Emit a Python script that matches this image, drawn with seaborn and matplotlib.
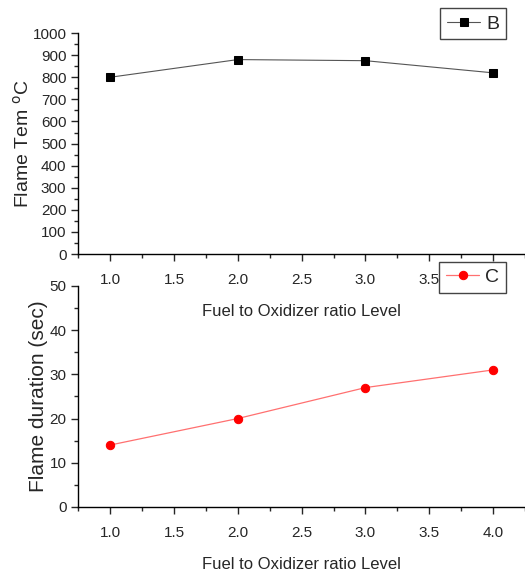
import matplotlib
matplotlib.use("Agg")
from matplotlib import pyplot as plt
from matplotlib.ticker import MultipleLocator
import pandas as pd
import seaborn as sns

# data
levels = [1.0, 2.0, 3.0, 4.0]
flame_temp = [800, 880, 875, 820]
flame_duration = [14, 20, 27, 31]

df = pd.DataFrame({"Level": levels, "B": flame_temp, "C": flame_duration})

sns.set_style("ticks")
plt.rcParams["font.family"] = ["Liberation Sans", "DejaVu Sans"]

fig = plt.figure(figsize=(5.25, 5.8), dpi=100)
ax1 = fig.add_axes([0.149, 0.562, 0.851, 0.381])
ax2 = fig.add_axes([0.149, 0.126, 0.851, 0.381])
# bottom panel sits on top (its legend hides the 4.0 label) but lets the top x label show
ax2.set_zorder(2)
ax2.patch.set_alpha(0)

# top panel: flame temperature
sns.lineplot(data=df, x="Level", y="B", ax=ax1, color="#555555", linewidth=0.8,
             marker="s", markersize=6, markerfacecolor="black",
             markeredgecolor="black", label="B")
ax1.set_ylim(0, 1000)
ax1.yaxis.set_major_locator(MultipleLocator(100))
ax1.yaxis.set_minor_locator(MultipleLocator(50))
ax1.set_ylabel("Flame Tem $^{\\mathrm{o}}$C", fontsize=14, labelpad=0)

# bottom panel: flame duration
sns.lineplot(data=df, x="Level", y="C", ax=ax2, color="#ff7070", linewidth=0.9,
             marker="o", markersize=6, markerfacecolor="red",
             markeredgecolor="red", label="C")
ax2.set_ylim(0, 50)
ax2.yaxis.set_major_locator(MultipleLocator(10))
ax2.yaxis.set_minor_locator(MultipleLocator(5))
ax2.set_ylabel("Flame duration (sec)", fontsize=15, labelpad=1)

for ax in (ax1, ax2):
    ax.set_xlim(0.75, 4.25)
    ax.xaxis.set_minor_locator(MultipleLocator(0.25))
    ax.set_xticks([1.0, 1.5, 2.0, 2.5, 3.0, 3.5, 4.0])
    ax.set_xlabel("Fuel to Oxidizer ratio Level", fontsize=12, labelpad=12)
    ax.tick_params(which="major", length=5, width=1, labelsize=11, direction="out")
    ax.tick_params(axis="x", which="major", pad=9)
    ax.tick_params(which="minor", length=3, width=1, direction="out")
    ax.spines["top"].set_visible(False)
    ax.spines["right"].set_visible(False)
    for s in ("left", "bottom"):
        ax.spines[s].set_color("black")
        ax.spines[s].set_linewidth(1)
    leg = ax.legend(loc="upper right", fontsize=14, handlelength=1.7,
                    handletextpad=0.3, frameon=True, fancybox=False,
                    borderpad=0.35, borderaxespad=0, framealpha=1)
    leg.get_frame().set_edgecolor("#444444")
    leg.get_frame().set_linewidth(1)

ax1.legend_.set_bbox_to_anchor((0.957, 1.113), transform=ax1.transAxes)
ax2.legend_.set_bbox_to_anchor((0.957, 1.109), transform=ax2.transAxes)

fig.savefig("out.png", dpi=100)
